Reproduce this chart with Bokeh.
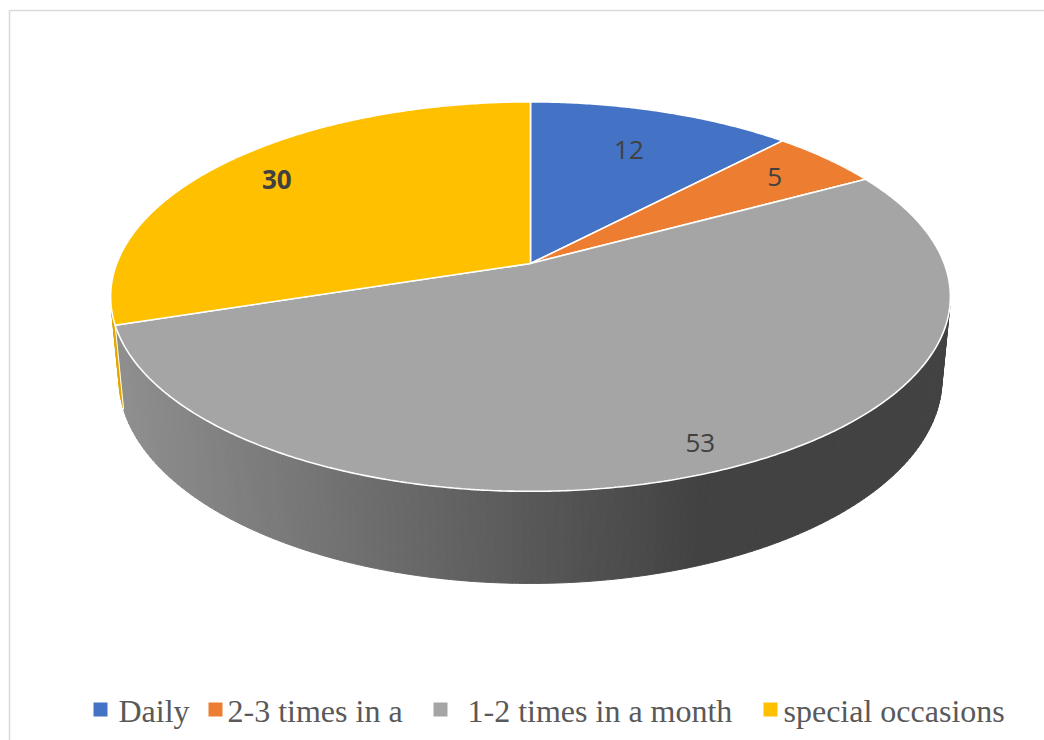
import math
from bokeh.plotting import figure
from bokeh.models import Range1d, ColumnDataSource
from bokeh.core.properties import value
from bokeh.embed import file_html
from bokeh.resources import INLINE

# ---- data ----
categories = ["Daily", "2-3 times in a", "1-2 times in a month", "special occasions"]
values = [12, 5, 53, 30]
colors = ["#4472C4", "#ED7D31", "#A5A5A5", "#FFC000"]
label_bold = [False, False, False, True]

# ---- geometry of the 3-D pie (perspective projection) ----
W, H = 1044, 740
CX, CY = 530.0, 263.0
F = 2164.0
SA, CA = 0.457, 0.889
DIST = 5.23
THICK = 0.225


def proj(phi_deg, r=1.0, h=0.0):
    ph = math.radians(phi_deg)
    X = r * math.sin(ph)
    D = r * math.cos(ph)
    yc = D * SA + h * CA
    zc = DIST + D * CA - h * SA
    return CX + F * X / zc, CY - F * yc / zc


total = float(sum(values))
starts, ends = [], []
acc = 0.0
for v in values:
    starts.append(acc / total * 360.0)
    acc += v
    ends.append(acc / total * 360.0)

p = figure(width=W, height=H, output_backend="svg", toolbar_location=None,
           x_range=Range1d(0, W), y_range=Range1d(H, 0), min_border=0)
p.axis.visible = False
p.grid.visible = False
p.outline_line_color = None
p.background_fill_color = "white"
p.border_fill_color = "white"

# chart border (light gray, extends beyond the window at right / bottom)
p.multi_line(xs=[[9, 9], [9, W + 20]], ys=[[H + 20, 10], [10, 10]],
             line_color="#D9D9D9", line_width=1.5)

# ---- side wall (visible front part) ----
cam_d = -DIST * CA
phi_sil = math.degrees(math.acos(1.0 / cam_d))  # ~102.4
vis_lo, vis_hi = phi_sil, 360.0 - phi_sil


def side_color(i, x):
    if i == 2:
        t = min(max((x - 118.0) / (700.0 - 118.0), 0.0), 1.0)
        c = int(round(0x8F + (0x42 - 0x8F) * t))
        return "#%02x%02x%02x" % (c, c, c)
    if i == 3:
        return "#E2A800"
    if i == 1:
        return "#C4641F"
    return "#2F5597"


sx_list, sy_list, sc_list = [], [], []
for i in range(len(values)):
    a0 = max(starts[i], vis_lo)
    a1 = min(ends[i], vis_hi)
    if a1 <= a0:
        continue
    n = max(1, int(math.ceil((a1 - a0) / 1.0)))
    for k in range(n):
        b0 = a0 + (a1 - a0) * k / n
        b1 = a0 + (a1 - a0) * (k + 1) / n
        pts_top = [proj(b0 + (b1 - b0) * j / 3.0) for j in range(4)]
        pts_bot = [proj(b0 + (b1 - b0) * j / 3.0, 1.0, -THICK) for j in range(4)][::-1]
        xs = [q[0] for q in pts_top + pts_bot]
        ys = [q[1] for q in pts_top + pts_bot]
        sx_list.append(xs)
        sy_list.append(ys)
        sc_list.append(side_color(i, sum(xs) / len(xs)))

p.patches(xs=sx_list, ys=sy_list, fill_color=sc_list, line_color=sc_list, line_width=1)

# boundary lines on the side wall
for i in range(len(values)):
    a = ends[i]
    if vis_lo < a < vis_hi:
        x0, y0 = proj(a)
        x1, y1 = proj(a, 1.0, -THICK)
        p.line([x0, x1], [y0, y1], line_color="white", line_width=1)

# ---- top face ----
txs, tys = [], []
for i in range(len(values)):
    n = max(8, int((ends[i] - starts[i]) * 2))
    pts = [proj(starts[i] + (ends[i] - starts[i]) * j / n) for j in range(n + 1)]
    txs.append([CX] + [q[0] for q in pts])
    tys.append([CY] + [q[1] for q in pts])
p.patches(xs=txs, ys=tys, fill_color=colors, line_color="white", line_width=1.6)

# ---- data labels ----
label_r = [0.72, 0.81, 0.89, 0.82]
lx, ly, lt, ls = [], [], [], []
for i, v in enumerate(values):
    mid = (starts[i] + ends[i]) / 2.0
    x, y = proj(mid, label_r[i])
    lx.append(x)
    ly.append(y)
    lt.append(str(v))
    ls.append("bold" if label_bold[i] else "normal")
src = ColumnDataSource(dict(x=lx, y=ly, text=lt, style=ls))
p.text(x="x", y="y", text="text", source=src, text_font=value("Open Sans"),
       text_font_size="26px", text_color="#404040", text_align="center",
       text_baseline="middle", text_font_style="style")

# ---- legend ----
leg_sq_x = [93, 208, 433, 763]
leg_tx_x = [118, 227, 467, 783]
p.rect(x=[x + 7 for x in leg_sq_x], y=[709] * 4, width=14, height=14,
       fill_color=colors, line_color=None)
p.text(x=leg_tx_x, y=[710] * 4, text=categories, text_font=value("Liberation Serif"),
       text_font_size="32px", text_color="#595959", text_align="left",
       text_baseline="middle")

open("out.html", "w").write(file_html(p, INLINE))
